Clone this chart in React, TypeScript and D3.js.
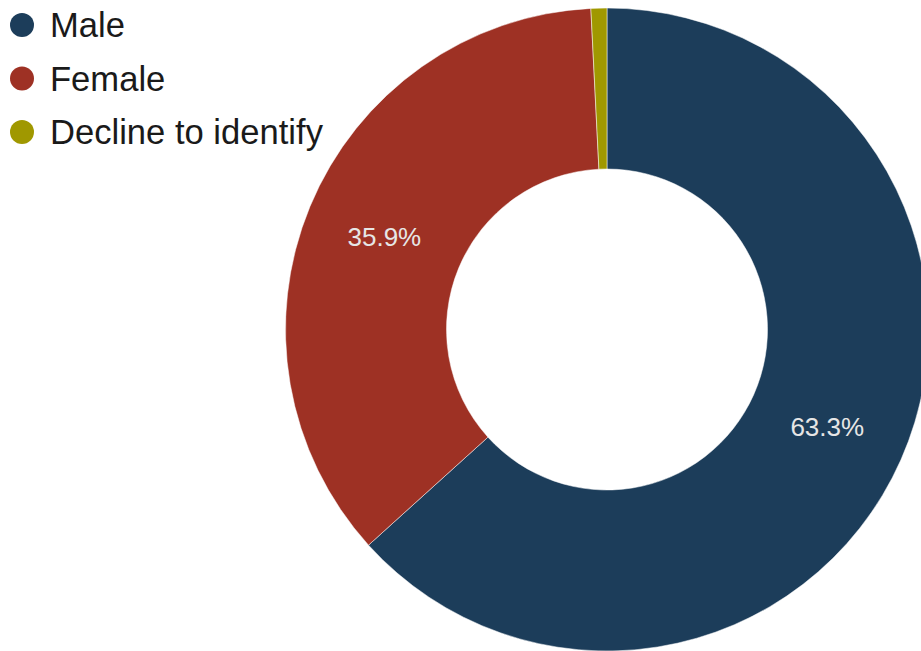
import React from "react";
import * as d3 from "d3";

const categories = ["Male", "Female", "Decline to identify"];
const values = [63.3, 35.9, 0.8];
const colors = ["#1c3d5a", "#9e3124", "#a09800"];
const labels = ["63.3%", "35.9%", ""];

const W = 921;
const H = 651;

export default function App() {
  const cx = 607;
  const cy = 329.5;
  const outerR = 321.5;
  const innerR = 160.5;

  const pie = d3
    .pie<number>()
    .sort(null)
    .value((d) => d);
  const arcs = pie(values);
  const arc = d3.arc<d3.PieArcDatum<number>>().innerRadius(innerR).outerRadius(outerR);
  const labelArc = d3
    .arc<d3.PieArcDatum<number>>()
    .innerRadius((innerR + outerR) / 2)
    .outerRadius((innerR + outerR) / 2);

  const legendY = d3.scalePoint<string>().domain(categories).range([25, 132]);

  return (
    <svg
      width={W}
      height={H}
      style={{ position: "absolute", left: 0, top: 0, background: "#fff" }}
      fontFamily="'Liberation Sans', Arial, Helvetica, sans-serif"
    >
      <g transform={`translate(${cx},${cy})`}>
        {arcs.map((a, i) => (
          <path key={i} d={arc(a) || ""} fill={colors[i]} stroke="#fff" strokeWidth={0.5} />
        ))}
        {arcs.map((a, i) => {
          if (!labels[i]) return null;
          const [x, y] = labelArc.centroid(a);
          return (
            <text
              key={"l" + i}
              x={x}
              y={y}
              textAnchor="middle"
              dominantBaseline="central"
              fontSize={26}
              fill="#e6e6e6"
            >
              {labels[i]}
            </text>
          );
        })}
      </g>
      <g>
        {categories.map((c, i) => {
          const y = legendY(c) as number;
          return (
            <g key={c}>
              <circle cx={22} cy={y} r={12} fill={colors[i]} />
              <text x={50} y={y} dominantBaseline="central" fontSize={34.6} fill="#1a1a1a">
                {c}
              </text>
            </g>
          );
        })}
      </g>
    </svg>
  );
}
